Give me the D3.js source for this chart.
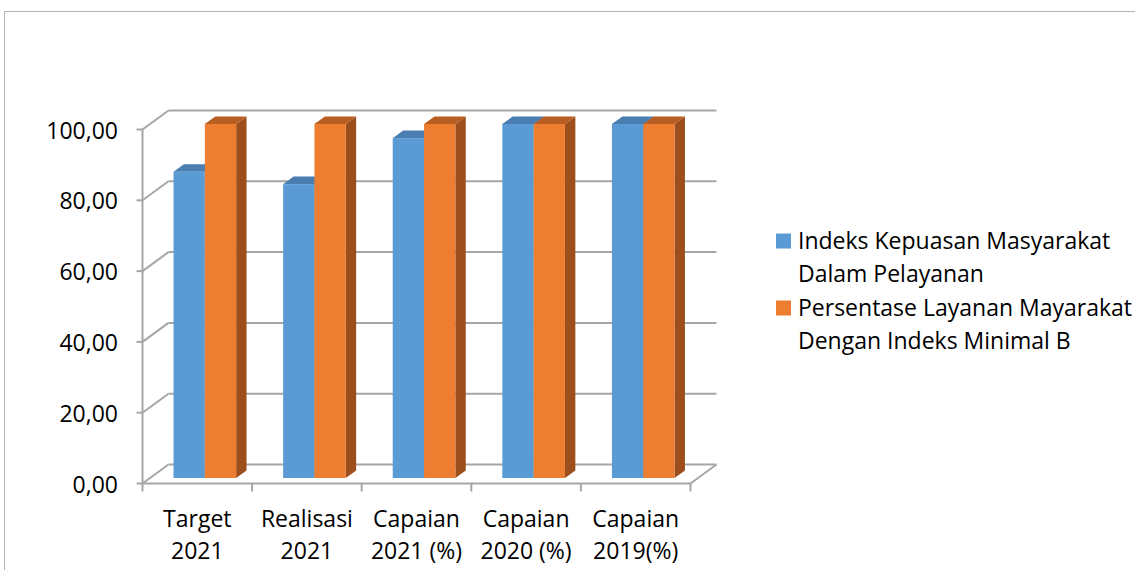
<!DOCTYPE html>
<html>
<head>
<meta charset="utf-8">
<script src="https://cdn.jsdelivr.net/npm/d3@7"></script>
<style>
  html, body { margin: 0; padding: 0; background: #fff; }
  svg { display: block; }
  text { font-family: "Open Sans", "Noto Sans", sans-serif; fill: #000; }
</style>
</head>
<body>
<svg id="chart" width="1135" height="570"></svg>
<script>
// ---- data ----
const categories = [["Target", "2021"], ["Realisasi", "2021"], ["Capaian", "2021 (%)"], ["Capaian", "2020 (%)"], ["Capaian", "2019(%)"]];
const seriesNames = [["Indeks Kepuasan Masyarakat", "Dalam Pelayanan"], ["Persentase Layanan Mayarakat", "Dengan Indeks Minimal B"]];
const indeksKepuasan = [86.5, 83.0, 96.0, 100, 100];
const persentaseLayanan = [100, 100, 100, 100, 100];
const yTicks = [0, 20, 40, 60, 80, 100];
const yTickLabels = ["0,00", "20,00", "40,00", "60,00", "80,00", "100,00"];

const seriesValues = [indeksKepuasan, persentaseLayanan];
const colors = [
  { front: "#5B9BD5", side: "#41719C", top: "#4A7DB0" },
  { front: "#ED7D31", side: "#9C4F1C", top: "#B95E22" }
];

const svg = d3.select("#chart");

// outer border
svg.append("path").attr("d", "M4.5,570 L4.5,11.5 L1135,11.5")
  .attr("fill", "none").attr("stroke", "#B4B4B4").attr("stroke-width", 1);

// ---- geometry ----
const x0 = 142.5, x1 = 690.5;
const y = d3.scaleLinear().domain([0, 100]).range([483.5, 129.5]);
const D = { x: 26, y: -19 };   // full depth vector
const t0 = 0.29, t1 = 0.69;    // bar depth span

const xCat = d3.scaleBand().domain(d3.range(categories.length)).range([x0, x1]).padding(0);
const xSer = d3.scaleBand().domain(d3.range(seriesValues.length)).range([0, xCat.bandwidth()]).paddingInner(0).paddingOuter(0.75);

const gridColor = "#A6A6A6";
const g = svg.append("g");

// back wall gridlines + left wall diagonals
yTicks.forEach(v => {
  const yy = y(v);
  g.append("line").attr("x1", x0 + D.x).attr("x2", x1 + D.x).attr("y1", yy + D.y).attr("y2", yy + D.y)
    .attr("stroke", gridColor).attr("stroke-width", 2);
  g.append("line").attr("x1", x0).attr("x2", x0 + D.x).attr("y1", yy).attr("y2", yy + D.y)
    .attr("stroke", gridColor).attr("stroke-width", 2);
});
// floor right diagonal and front edge
g.append("line").attr("x1", x1).attr("y1", y(0)).attr("x2", x1 + D.x).attr("y2", y(0) + D.y)
  .attr("stroke", gridColor).attr("stroke-width", 2);
g.append("line").attr("x1", x0).attr("y1", y(0)).attr("x2", x1).attr("y2", y(0))
  .attr("stroke", gridColor).attr("stroke-width", 2);
// front y axis
g.append("line").attr("x1", x0).attr("y1", y(100)).attr("x2", x0).attr("y2", y(0))
  .attr("stroke", gridColor).attr("stroke-width", 2);

// y ticks and labels
yTicks.forEach((v, i) => {
  g.append("line").attr("x1", x0 - 6).attr("x2", x0).attr("y1", y(v)).attr("y2", y(v))
    .attr("stroke", gridColor).attr("stroke-width", 2);
  g.append("text").attr("x", 118).attr("y", y(v) + 9).attr("text-anchor", "end")
    .attr("font-size", 23).text(yTickLabels[i]);
});

// x ticks
d3.range(categories.length + 1).forEach(i => {
  const xx = x0 + i * xCat.step();
  g.append("line").attr("x1", xx).attr("x2", xx).attr("y1", y(0)).attr("y2", y(0) + 8)
    .attr("stroke", gridColor).attr("stroke-width", 2);
});

// category labels
categories.forEach((c, i) => {
  const cx = xCat(i) + xCat.bandwidth() / 2;
  const t = g.append("text").attr("text-anchor", "middle").attr("font-size", 23);
  t.append("tspan").attr("x", cx).attr("y", 527).text(c[0]);
  t.append("tspan").attr("x", cx).attr("y", 559).text(c[1]);
});

// bars
const bars = svg.append("g");
categories.forEach((c, i) => {
  seriesValues.forEach((vals, j) => {
    const v = vals[i];
    const bx = xCat(i) + xSer(j) + t0 * D.x;
    const bw = xSer.bandwidth();
    const yb = y(0) + t0 * D.y;
    const yt = y(v) + t0 * D.y;
    const dx = (t1 - t0) * D.x, dy = (t1 - t0) * D.y;
    // side face
    bars.append("path")
      .attr("d", `M${bx + bw},${yb} L${bx + bw + dx},${yb + dy} L${bx + bw + dx},${yt + dy} L${bx + bw},${yt} Z`)
      .attr("fill", colors[j].side);
    // top face
    bars.append("path")
      .attr("d", `M${bx},${yt} L${bx + dx},${yt + dy} L${bx + bw + dx},${yt + dy} L${bx + bw},${yt} Z`)
      .attr("fill", colors[j].top);
    // front face
    bars.append("rect").attr("x", bx).attr("y", yt).attr("width", bw).attr("height", yb - yt)
      .attr("fill", colors[j].front);
  });
});

// legend
const lg = svg.append("g");
seriesNames.forEach((names, j) => {
  const base = 248.5 + j * 67;
  lg.append("rect").attr("x", 776).attr("y", base - 15).attr("width", 15).attr("height", 15)
    .attr("fill", colors[j].front);
  const t = lg.append("text").attr("font-size", 23);
  t.append("tspan").attr("x", 798).attr("y", base).text(names[0]);
  t.append("tspan").attr("x", 798).attr("y", base + 33.5).text(names[1]);
});
</script>
</body>
</html>
